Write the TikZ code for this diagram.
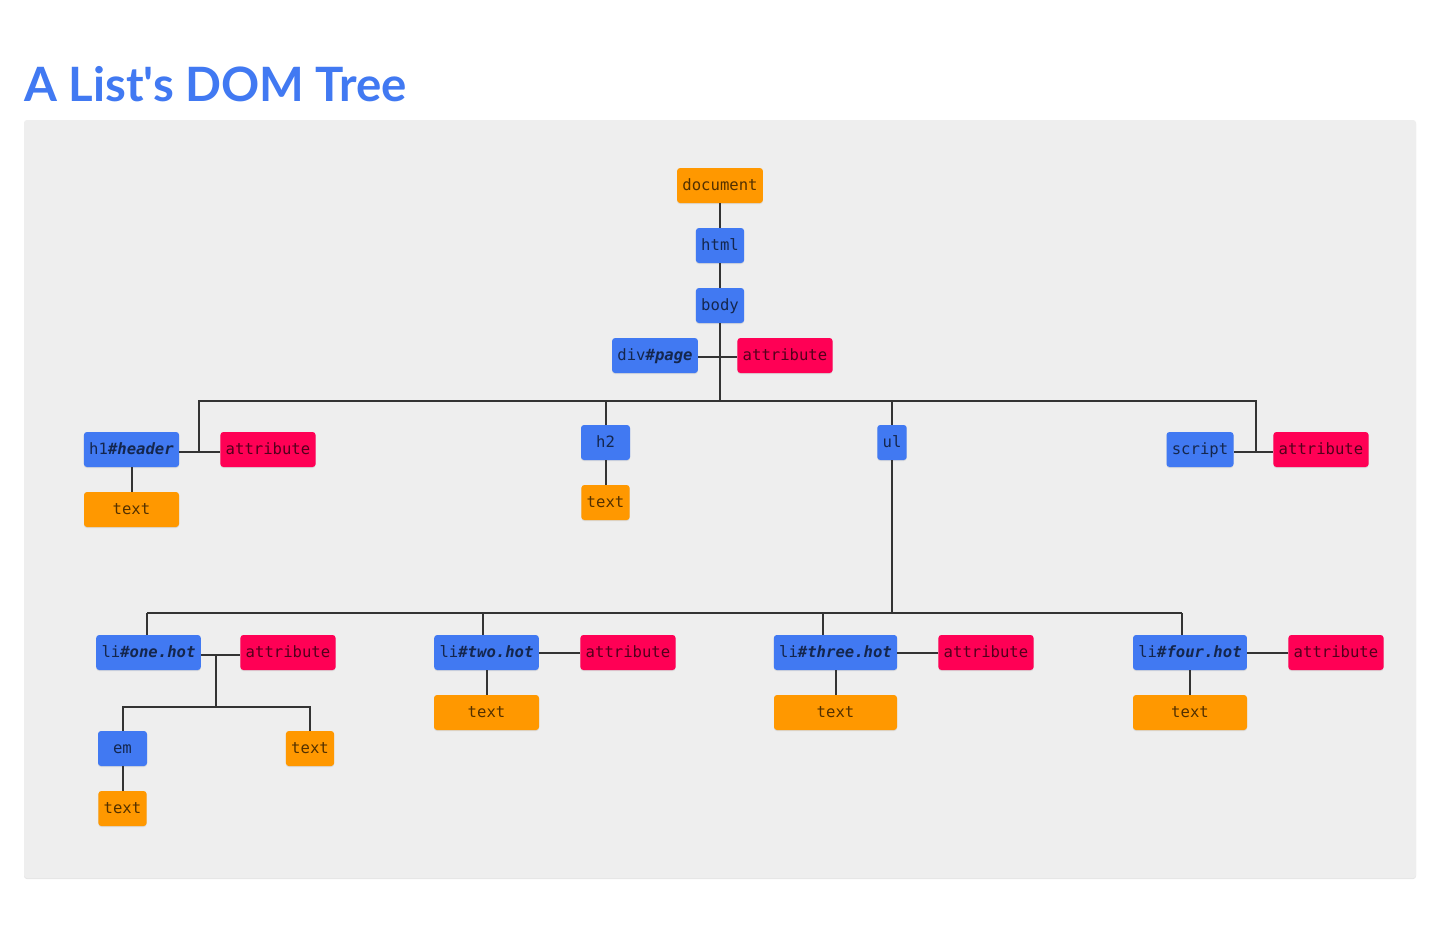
\documentclass[tikz,border=0pt]{standalone}
\usepackage{fontspec}
\newfontfamily\titlefont{Lato}
\setmonofont{DejaVu Sans Mono}
\usetikzlibrary{shadows}
\definecolor{domblue}{HTML}{4179F2}
\definecolor{domorange}{HTML}{FF9800}
\definecolor{domred}{HTML}{FF0055}
\definecolor{panelgray}{HTML}{EEEEEE}
\definecolor{wiregray}{HTML}{333333}
\tikzset{
  box/.style={rounded corners=2.25pt,minimum height=26.25pt,inner xsep=4pt,
    text height=9.6pt,text depth=1.4pt,
    font=\ttfamily\fontsize{11.7}{13}\selectfont,text=black,text opacity=0.68,
    drop shadow={opacity=0.18,shadow xshift=0pt,shadow yshift=-0.8pt}},
  elem/.style={box,fill=domblue},
  leaf/.style={box,fill=domorange},
  attr/.style={box,fill=domred},
  wire/.style={draw=wiregray,line width=1.5pt}
}
\newcommand{\hid}[1]{\textbf{\textit{#1}}}

\begin{document}
\begin{tikzpicture}[x=0.75pt,y=-0.75pt]
  \useasboundingbox (0,0) rectangle (1440,926);
  \fill[white] (0,0) rectangle (1440,926);
  \node[anchor=base west,inner sep=0pt,text=domblue,font=\titlefont\fontsize{35.5}{42}\selectfont\bfseries] (title) at (24,101) {A List's DOM Tree};
  \fill[panelgray,rounded corners=2.25pt,drop shadow={opacity=0.2,shadow xshift=0pt,shadow yshift=-0.8pt}] (24,120) rectangle (1416,878);

  % top of the tree
  \node[leaf] (document) at (720,185.5) {document};
  \node[elem] (html) at (720,245.5) {html};
  \node[elem] (body) at (720,305.5) {body};
  \node[elem] (divpage) at (655,355.5) {div\hid{\#page}};
  \node[attr] (divattr) at (785,355.5) {attribute};

  % second level
  \node[elem] (h1) at (131.5,449.5) {h1\hid{\#header}};
  \node[attr] (h1attr) at (268,449.5) {attribute};
  \node[leaf,minimum width=71.25pt] (h1text) at (131.5,509.5) {text};
  \node[elem,minimum width=36.75pt] (h2) at (605.5,442.5) {h2};
  \node[leaf] (h2text) at (605.5,502.5) {text};
  \node[elem] (ul) at (892,442.5) {ul};
  \node[elem] (script) at (1200,449.5) {script};
  \node[attr] (scattr) at (1321,449.5) {attribute};

  % list items
  \node[elem] (li1) at (148.5,652.5) {li\hid{\#one.hot}};
  \node[attr] (li1attr) at (288,652.5) {attribute};
  \node[elem,minimum width=36.75pt] (em) at (122.5,748.5) {em};
  \node[leaf] (emtext) at (122.5,808.5) {text};
  \node[leaf] (li1text) at (310,748.5) {text};
  \node[elem] (li2) at (486.5,652.5) {li\hid{\#two.hot}};
  \node[attr] (li2attr) at (628,652.5) {attribute};
  \node[leaf,minimum width=78.75pt] (li2text) at (486.5,712.5) {text};
  \node[elem] (li3) at (835.5,652.5) {li\hid{\#three.hot}};
  \node[attr] (li3attr) at (986,652.5) {attribute};
  \node[leaf,minimum width=92.25pt] (li3text) at (835.5,712.5) {text};
  \node[elem] (li4) at (1190,652.5) {li\hid{\#four.hot}};
  \node[attr] (li4attr) at (1336,652.5) {attribute};
  \node[leaf,minimum width=85.5pt] (li4text) at (1190,712.5) {text};

  % junctions
  \coordinate (top) at (720,401);
  \coordinate (h1j) at (199,452);
  \coordinate (scj) at (1256,452);
  \coordinate (mid) at (892,613);
  \coordinate (j1) at (147,613);
  \coordinate (j2) at (483,613);
  \coordinate (j3) at (823,613);
  \coordinate (j4) at (1182,613);
  \coordinate (li1j) at (216,655);
  \coordinate (fork) at (216,707);

  \draw[wire] (document) -- (html);
  \draw[wire] (html) -- (body);
  \draw[wire] (body) -- (top);
  \draw[wire] (divpage.east|-0,357) -- (divattr.west|-0,357);
  \draw[wire] (h1j) |- (top);
  \draw[wire] (h2) |- (top);
  \draw[wire] (ul) |- (top);
  \draw[wire] (scj) |- (top);
  \draw[wire] (h1.east|-h1j) -- (h1attr.west|-h1j);
  \draw[wire] (script.east|-scj) -- (scattr.west|-scj);
  \draw[wire] (h1) -- (h1text);
  \draw[wire] (h2) -- (h2text);
  \draw[wire] (ul) -- (mid);
  \draw[wire] (j1) -- (j4);
  \draw[wire] (j1) -- (j1|-li1.north);
  \draw[wire] (j2) -- (j2|-li2.north);
  \draw[wire] (j3) -- (j3|-li3.north);
  \draw[wire] (j4) -- (j4|-li4.north);
  \draw[wire] (li1.east|-li1j) -- (li1attr.west|-li1j);
  \draw[wire] (li1j) -- (fork);
  \draw[wire] (em) |- (fork);
  \draw[wire] (li1text) |- (fork);
  \draw[wire] (em) -- (emtext);
  \draw[wire] (li2) -- (li2attr);
  \draw[wire] (li3) -- (li3attr);
  \draw[wire] (li4) -- (li4attr);
  \draw[wire] (li2) -- (li2text);
  \draw[wire] (li3) -- (li3text);
  \draw[wire] (li4) -- (li4text);
\end{tikzpicture}
\end{document}
